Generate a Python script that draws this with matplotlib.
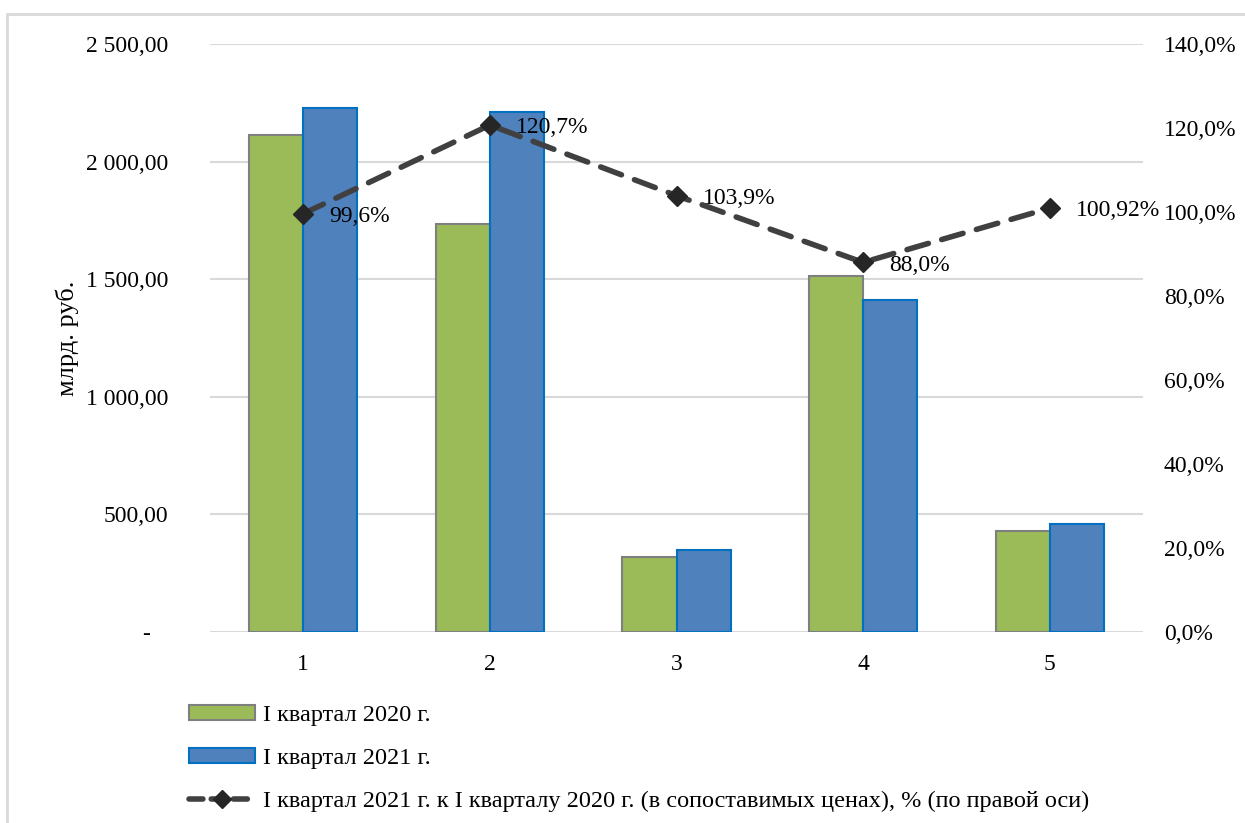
import matplotlib
matplotlib.use("Agg")
import matplotlib.pyplot as plt
from matplotlib.patches import Rectangle
from matplotlib.lines import Line2D
from matplotlib.patches import Patch
import numpy as np

categories = ["1", "2", "3", "4", "5"]
q1_2020 = [2113, 1735, 319, 1514, 429]
q1_2021 = [2228, 2211, 349, 1412, 459]
ratio_pct = [99.6, 120.7, 103.9, 88.0, 100.92]
ratio_labels = ["99,6%", "120,7%", "103,9%", "88,0%", "100,92%"]
left_ticks = [0, 500, 1000, 1500, 2000, 2500]
left_tick_labels = ["-   ", "500,00", "1 000,00", "1 500,00", "2 000,00", "2 500,00"]
right_ticks = [0, 20, 40, 60, 80, 100, 120, 140]
right_tick_labels = ["0,0%", "20,0%", "40,0%", "60,0%", "80,0%", "100,0%", "120,0%", "140,0%"]
legend_labels = ["I квартал 2020 г.", "I квартал 2021 г.",
                 "I квартал 2021 г. к I кварталу 2020 г. (в сопоставимых ценах), % (по правой оси)"]

plt.rcParams['font.family'] = ['Liberation Serif', 'DejaVu Serif']
FS = 17

W, H = 1245, 823
fig = plt.figure(figsize=(W / 100, H / 100), dpi=100)
fig.patches.append(Rectangle((7 / W, -0.1), 1.2, 1 - 14 / H + 0.1, transform=fig.transFigure,
                             fill=False, edgecolor="#d9d9d9", linewidth=2))

ax = fig.add_axes([210 / W, 1 - 632 / H, (1143 - 210) / W, (632 - 44) / H])
x = np.arange(len(categories))
bw = 0.29
ax.bar(x - bw / 2, q1_2020, bw, color="#9bbb59", edgecolor="#7f7f7f", linewidth=1.5, zorder=3)
ax.bar(x + bw / 2, q1_2021, bw, color="#4f81bd", edgecolor="#0070c0", linewidth=1.5, zorder=3)
ax.set_xlim(-0.5, len(categories) - 0.5)
ax.set_ylim(0, 2500)
ax.set_yticks(left_ticks)
ax.set_yticklabels(left_tick_labels)
ax.set_xticks(x)
ax.set_xticklabels(categories)
ax.grid(axis="y", color="#d9d9d9", linewidth=1.5, zorder=0)
for s in ax.spines.values():
    s.set_visible(False)
ax.tick_params(axis="y", length=0, pad=30, labelsize=FS)
ax.tick_params(axis="x", length=0, pad=16, labelsize=FS)
ax.set_ylabel("млрд. руб.", fontsize=19, labelpad=5)

ax2 = ax.twinx()
ax2.set_ylim(0, 140)
ax2.set_yticks(right_ticks)
ax2.set_yticklabels(right_tick_labels)
ax2.tick_params(axis="y", length=0, pad=15, labelsize=FS)
for s in ax2.spines.values():
    s.set_visible(False)
ax2.plot(x, ratio_pct, color="#404040", linewidth=4, dashes=(4, 2.5), dash_capstyle="round",
         marker="D", markersize=10, markerfacecolor="#262626", markeredgecolor="#262626", zorder=5)
for xi, yi, lab in zip(x, ratio_pct, ratio_labels):
    ax2.annotate(lab, (xi, yi), xytext=(19, -2), textcoords="offset points",
                 ha="left", va="center", fontsize=FS, color="#000000")

handles = [Patch(facecolor="#9bbb59", edgecolor="#7f7f7f", linewidth=1.5),
           Patch(facecolor="#4f81bd", edgecolor="#0070c0", linewidth=1.5),
           Line2D([0], [0], color="#404040", linewidth=4, dashes=(2.5, 1.5), dash_capstyle="round",
                  marker="D", markersize=9, markerfacecolor="#262626", markeredgecolor="#262626")]
fig.legend(handles, legend_labels, loc="upper left", bbox_to_anchor=(167 / W, 1 - 683 / H),
           frameon=False, fontsize=17.5, handlelength=2.7, handleheight=0.6, labelspacing=0.9,
           handletextpad=0.35)

fig.savefig("out.png", dpi=100)
